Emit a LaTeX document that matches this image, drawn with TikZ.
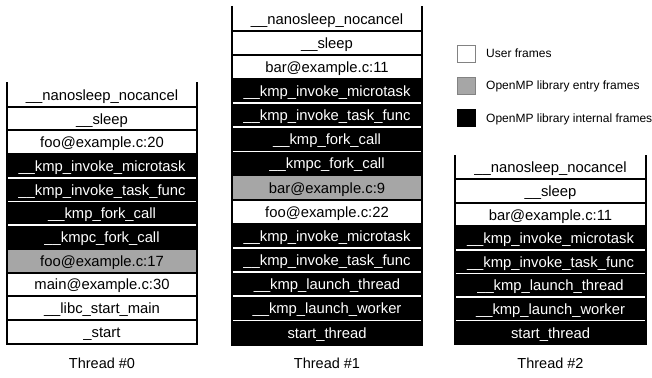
\documentclass[tikz,border=0pt]{standalone}
\usepackage{fontspec}
\setmainfont{Liberation Sans}
\definecolor{entrygray}{RGB}{166,166,166}
\definecolor{keyedge}{RGB}{130,130,130}
\tikzset{
  rowbox/.style={inner sep=0pt, minimum width=190pt, anchor=north,
    text height=11.6pt, text depth=0pt, font=\fontsize{14.8}{16}\selectfont},
  fru/.style={fill=white, text=black},
  fre/.style={fill=entrygray, text=black},
  fri/.style={fill=black, text=white},
  stackedge/.style={draw=black, line width=2pt},
  rowsep/.style={draw=black, line width=2pt},
  whitesep/.style={draw=white, line width=1.6pt, shorten <=1pt, shorten >=1pt},
  threadlabel/.style={anchor=base, inner sep=0pt, font=\fontsize{14.5}{16}\selectfont},
  keybox/.style={minimum width=18pt, minimum height=17pt, inner sep=0pt, line width=0.8pt},
  keytext/.style={anchor=base west, inner sep=0pt, font=\fontsize{12}{14}\selectfont}
}
\begin{document}
\begin{tikzpicture}[x=1pt, y=-1pt]
\useasboundingbox (0,0) rectangle (652,377);

% ---- Thread #0 ----
\foreach \txt/\k [count=\i] in {
  \_\_nanosleep\_nocancel/u, \_\_sleep/u, foo@example.c:20/u,
  \_\_kmp\_invoke\_microtask/i, \_\_kmp\_invoke\_task\_func/i,
  \_\_kmp\_fork\_call/i, \_\_kmpc\_fork\_call/i, foo@example.c:17/e,
  main@example.c:30/u, \_\_libc\_start\_main/u, \_start/u}
  \node[rowbox, fr\k, minimum height=23.7pt] (t0r\i) at (102, {82.5+(\i-1)*23.7}) {\txt};
\foreach \i in {1,...,10}
  \draw[rowsep] (t0r\i.south west) -- (t0r\i.south east);
\foreach \i in {4,5,6}
  \draw[whitesep] (t0r\i.south west) -- (t0r\i.south east);
\draw[stackedge] (t0r1.north west) -- (t0r11.south west) -- (t0r11.south east) -- (t0r1.north east);
\node[threadlabel] (lab0) at (102, 368) {Thread \#0};

% ---- Thread #1 ----
\foreach \txt/\k [count=\i] in {
  \_\_nanosleep\_nocancel/u, \_\_sleep/u, bar@example.c:11/u,
  \_\_kmp\_invoke\_microtask/i, \_\_kmp\_invoke\_task\_func/i,
  \_\_kmp\_fork\_call/i, \_\_kmpc\_fork\_call/i, bar@example.c:9/e,
  foo@example.c:22/u, \_\_kmp\_invoke\_microtask/i, \_\_kmp\_invoke\_task\_func/i,
  \_\_kmp\_launch\_thread/i, \_\_kmp\_launch\_worker/i, start\_thread/i}
  \node[rowbox, fr\k, minimum height=24.15pt] (t1r\i) at (327, {6+(\i-1)*24.15}) {\txt};
\foreach \i in {1,...,13}
  \draw[rowsep] (t1r\i.south west) -- (t1r\i.south east);
\foreach \i in {4,5,6,10,11,12,13}
  \draw[whitesep] (t1r\i.south west) -- (t1r\i.south east);
\draw[stackedge] (t1r1.north west) -- (t1r14.south west) -- (t1r14.south east) -- (t1r1.north east);
\node[threadlabel] (lab1) at (327, 368) {Thread \#1};

% ---- Thread #2 ----
\foreach \txt/\k [count=\i] in {
  \_\_nanosleep\_nocancel/u, \_\_sleep/u, bar@example.c:11/u,
  \_\_kmp\_invoke\_microtask/i, \_\_kmp\_invoke\_task\_func/i,
  \_\_kmp\_launch\_thread/i, \_\_kmp\_launch\_worker/i, start\_thread/i}
  \node[rowbox, fr\k, minimum width=191pt, minimum height=23.6pt] (t2r\i) at (550.5, {155+(\i-1)*23.6}) {\txt};
\foreach \i in {1,...,7}
  \draw[rowsep] (t2r\i.south west) -- (t2r\i.south east);
\foreach \i in {4,5,6,7}
  \draw[whitesep] (t2r\i.south west) -- (t2r\i.south east);
\draw[stackedge] (t2r1.north west) -- (t2r8.south west) -- (t2r8.south east) -- (t2r1.north east);
\node[threadlabel] (lab2) at (550.5, 368) {Thread \#2};

% ---- Legend ----
\node[keybox, draw=keyedge, fill=white] (keyu) at (466, 53.5) {};
\node[keytext] (keyut) at (486, 57.5) {User frames};
\node[keybox, draw=keyedge, fill=entrygray] (keye) at (466, 85.5) {};
\node[keytext] (keyet) at (486, 89.5) {OpenMP library entry frames};
\node[keybox, draw=black, fill=black] (keyi) at (466, 118) {};
\node[keytext] (keyit) at (486, 122) {OpenMP library internal frames};
\end{tikzpicture}
\end{document}
